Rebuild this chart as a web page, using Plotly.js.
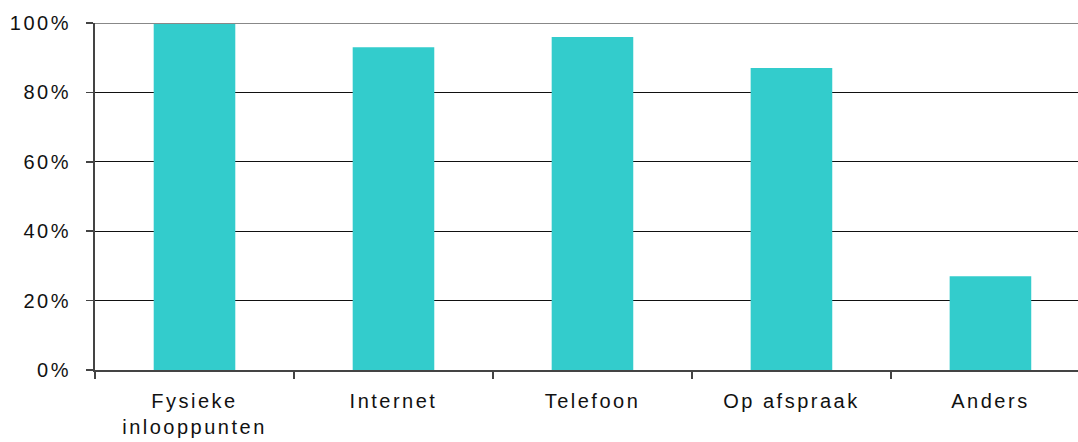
<!DOCTYPE html>
<html>
<head>
<meta charset="utf-8">
<script src="https://cdn.plot.ly/plotly-3.0.1.min.js"></script>
<style>
  html, body { margin: 0; padding: 0; background: #fff; }
  #chart { width: 1078px; height: 442px; }
  .xtick text, .ytick text { letter-spacing: 2.5px; }
</style>
</head>
<body>
<div id="chart"></div>
<script>
const categories = ["Fysieke<br>inlooppunten", "Internet", "Telefoon", "Op afspraak", "Anders"];
const values = [1.00, 0.93, 0.96, 0.87, 0.27];
const yTickVals = [0, 0.2, 0.4, 0.6, 0.8, 1.0];
const yTickText = ["0%", "20%", "40%", "60%", "80%", "100%"];

const trace = {
  type: "bar",
  x: categories,
  y: values,
  width: 0.41,
  marker: { color: "#33CCCC", line: { width: 0 } },
  hoverinfo: "none"
};

const layout = {
  width: 1078,
  height: 442,
  margin: { l: 95, r: 0, t: 23, b: 72, pad: 0 },
  paper_bgcolor: "#fff",
  plot_bgcolor: "#fff",
  showlegend: false,
  font: { family: "Liberation Sans, Arial, sans-serif", size: 20, color: "#111" },
  xaxis: {
    type: "category",
    range: [-0.5, 4.44],
    showgrid: false,
    zeroline: false,
    showline: true,
    linecolor: "#444",
    linewidth: 2,
    ticks: "outside",
    tickson: "boundaries",
    ticklen: 7,
    tickwidth: 1.5,
    tickcolor: "#444",
    ticklabelstandoff: 12,
    tickfont: { size: 20, color: "#111" },
    fixedrange: true
  },
  yaxis: {
    range: [0, 1],
    tickvals: yTickVals,
    ticktext: yTickText,
    showgrid: true,
    gridcolor: "#111",
    gridwidth: 1,
    zeroline: false,
    showline: true,
    linecolor: "#444",
    linewidth: 2,
    ticks: "outside",
    ticklen: 7,
    tickwidth: 1.5,
    tickcolor: "#444",
    ticklabelstandoff: 11,
    tickfont: { size: 20, color: "#111" },
    fixedrange: true
  },
  shapes: [{
    type: "line",
    xref: "paper", yref: "y",
    x0: 0, x1: 1, y0: 1, y1: 1,
    line: { color: "#888", width: 2 },
    layer: "above"
  }]
};

Plotly.newPlot("chart", [trace], layout, { displayModeBar: false, staticPlot: true });
</script>
</body>
</html>
